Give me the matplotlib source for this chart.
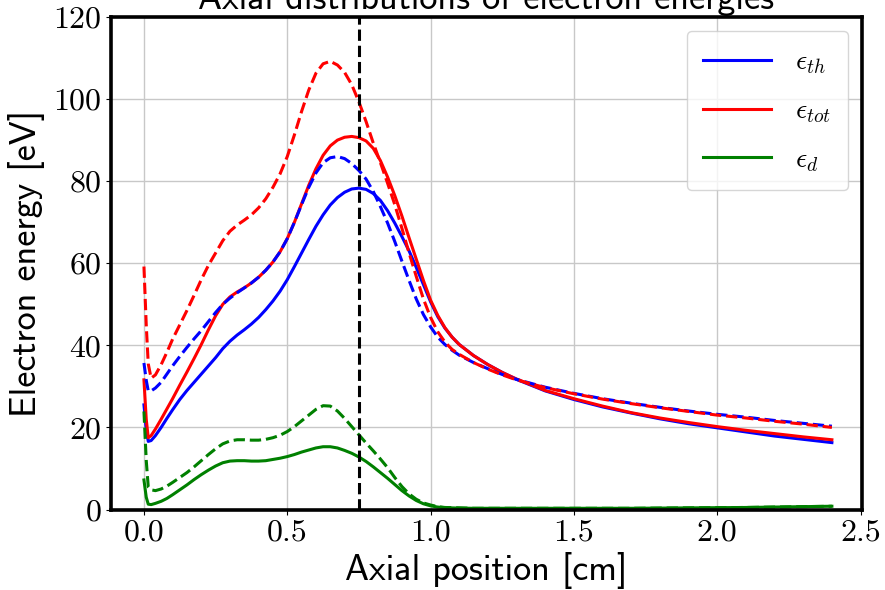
import matplotlib
matplotlib.use("Agg")
import matplotlib.pyplot as plt

plt.rcParams['mathtext.fontset'] = 'cm'
plt.rcParams['axes.formatter.use_mathtext'] = True

x = [0.0, 0.008, 0.015, 0.025, 0.04, 0.06, 0.08, 0.1, 0.125, 0.15, 0.175, 0.2,
     0.225, 0.25, 0.275, 0.3, 0.325, 0.35, 0.375, 0.4, 0.425, 0.45, 0.475, 0.5,
     0.525, 0.55, 0.575, 0.6, 0.625, 0.65, 0.675, 0.7, 0.725, 0.75, 0.775, 0.8,
     0.825, 0.85, 0.875, 0.9, 0.925, 0.95, 0.975, 1.0, 1.025, 1.05, 1.075, 1.1,
     1.15, 1.2, 1.25, 1.3, 1.4, 1.5, 1.6, 1.7, 1.8, 1.9, 2.0, 2.1, 2.2, 2.3, 2.4]

# solid lines
eth = [25.5, 19.5, 16.6, 16.8, 18.0, 20.0, 22.2, 24.3, 26.8, 29.0, 31.0, 33.0,
       35.0, 37.0, 39.2, 41.0, 42.5, 43.8, 45.2, 46.8, 48.7, 50.8, 53.2, 56.0,
       59.2, 62.5, 65.8, 69.0, 71.8, 74.2, 76.0, 77.3, 78.1, 78.3, 78.0, 77.0,
       75.3, 72.8, 69.8, 66.5, 63.0, 59.0, 54.8, 50.6, 47.0, 44.2, 42.0, 40.2,
       37.5, 35.3, 33.4, 31.7, 28.9, 26.8, 25.0, 23.5, 22.1, 20.9, 19.9, 18.9,
       17.9, 17.1, 16.3]
etot = [31.6, 22.0, 17.5, 18.0, 19.6, 22.0, 24.5, 27.0, 30.3, 33.5, 36.8, 40.2,
        43.8, 47.2, 50.0, 51.8, 53.0, 54.0, 55.2, 56.6, 58.3, 60.3, 62.8, 66.0,
        70.0, 74.5, 79.0, 83.0, 86.3, 88.6, 90.0, 90.7, 90.9, 90.6, 89.8, 88.0,
        85.0, 81.0, 76.5, 71.5, 66.2, 61.0, 55.8, 51.0, 47.3, 44.3, 42.0, 40.2,
        37.5, 35.3, 33.4, 31.8, 29.0, 27.0, 25.2, 23.6, 22.3, 21.2, 20.2, 19.3,
        18.5, 17.7, 17.0]
ed = [7.2, 3.0, 1.3, 1.2, 1.5, 2.0, 2.7, 3.6, 4.8, 6.0, 7.3, 8.5,
      9.6, 10.6, 11.4, 11.8, 11.9, 11.9, 11.8, 11.8, 11.9, 12.2, 12.5, 12.9,
      13.4, 14.0, 14.5, 15.0, 15.3, 15.3, 15.0, 14.4, 13.7, 12.8, 11.7, 10.4,
      9.0, 7.6, 6.1, 4.6, 3.3, 2.2, 1.4, 0.9, 0.6, 0.45, 0.4, 0.35,
      0.3, 0.3, 0.3, 0.3, 0.3, 0.3, 0.3, 0.3, 0.35, 0.4, 0.45, 0.5,
      0.6, 0.7, 0.8]

# dashed lines
eth_d = [35.7, 31.5, 28.9, 28.9, 29.6, 31.0, 33.0, 35.0, 37.3, 39.5, 41.6, 43.6,
         45.8, 48.0, 50.0, 51.5, 52.8, 54.0, 55.2, 56.6, 58.3, 60.3, 62.8, 66.0,
         70.0, 74.3, 78.5, 82.0, 84.5, 85.7, 86.0, 85.5, 84.3, 82.6, 80.5, 77.5,
         73.8, 69.8, 65.3, 60.5, 55.8, 51.3, 47.5, 44.5, 42.0, 40.2, 38.8, 37.6,
         35.8, 34.3, 32.9, 31.7, 29.8, 28.3, 27.0, 25.9, 24.9, 24.0, 23.2, 22.5,
         21.7, 21.0, 20.3]
etot_d = [59.2, 45.0, 35.5, 32.0, 32.8, 35.3, 38.3, 41.5, 45.0, 48.5, 52.2, 56.0,
          59.5, 62.5, 65.5, 67.8, 69.3, 70.5, 71.8, 73.5, 75.7, 78.5, 81.8, 86.0,
          91.3, 97.0, 102.2, 106.3, 108.6, 109.2, 108.3, 106.5, 103.5, 99.3, 94.5, 89.3,
          84.5, 79.5, 74.3, 68.5, 62.5, 56.8, 51.3, 46.8, 43.3, 40.8, 39.0, 37.8,
          35.8, 34.2, 32.8, 31.6, 29.7, 28.2, 26.9, 25.8, 24.8, 23.9, 23.0, 22.3,
          21.5, 20.8, 20.0]
ed_d = [23.9, 12.0, 5.5, 4.8, 4.6, 5.0, 5.7, 6.6, 7.8, 9.0, 10.4, 11.9,
        13.4, 14.8, 16.0, 16.7, 17.0, 17.0, 16.9, 16.9, 17.1, 17.5, 18.1, 19.0,
        20.2, 21.6, 23.0, 24.4, 25.3, 25.2, 24.0, 22.2, 20.2, 18.2, 16.2, 14.3,
        12.3, 10.2, 7.8, 5.6, 3.8, 2.5, 1.6, 1.1, 0.7, 0.5, 0.45, 0.4,
        0.3, 0.3, 0.3, 0.3, 0.3, 0.3, 0.3, 0.3, 0.35, 0.4, 0.45, 0.5,
        0.6, 0.7, 0.8]

x_marker = 0.75
xticks = [0.0, 0.5, 1.0, 1.5, 2.0, 2.5]
yticks = [0, 20, 40, 60, 80, 100, 120]

fig = plt.figure(figsize=(8.85, 5.9), dpi=100)
ax = fig.add_axes([0.1254, 0.1364, 0.974 - 0.1254, 0.9712 - 0.1364])

lw = 2.2
ax.plot(x, eth, color='blue', lw=lw, label=r'$\epsilon_{th}$')
ax.plot(x, etot, color='red', lw=lw, label=r'$\epsilon_{tot}$')
ax.plot(x, ed, color='green', lw=lw, label=r'$\epsilon_{d}$')
ax.plot(x, eth_d, color='blue', lw=lw, ls='--')
ax.plot(x, etot_d, color='red', lw=lw, ls='--')
ax.plot(x, ed_d, color='green', lw=lw, ls='--')
ax.axvline(x_marker, color='black', lw=lw, ls='--')

ax.set_xlim(-0.115, 2.505)
ax.set_ylim(0, 120)
ax.set_xticks(xticks)
ax.set_yticks(yticks)
ax.set_xticklabels(['%.1f' % t for t in xticks], fontfamily='cmr10', fontsize=23)
ax.set_yticklabels(['%d' % t for t in yticks], fontfamily='cmr10', fontsize=23)
ax.grid(True, color='#c8c8c8', lw=1.0)
ax.set_axisbelow(True)
for s in ax.spines.values():
    s.set_linewidth(2.6)

ax.set_xlabel('Axial position [cm]', fontfamily='cmss10', fontsize=26, labelpad=4)
ax.set_ylabel('Electron energy [eV]', fontfamily='cmss10', fontsize=26, labelpad=6)
ax.set_title('Axial distributions of electron energies', fontfamily='cmss10', fontsize=26)

leg = ax.legend(loc='upper right', fontsize=20, handlelength=2.45, labelspacing=0.72,
                handletextpad=0.86, borderpad=0.6)

fig.savefig('out.png', dpi=100)
